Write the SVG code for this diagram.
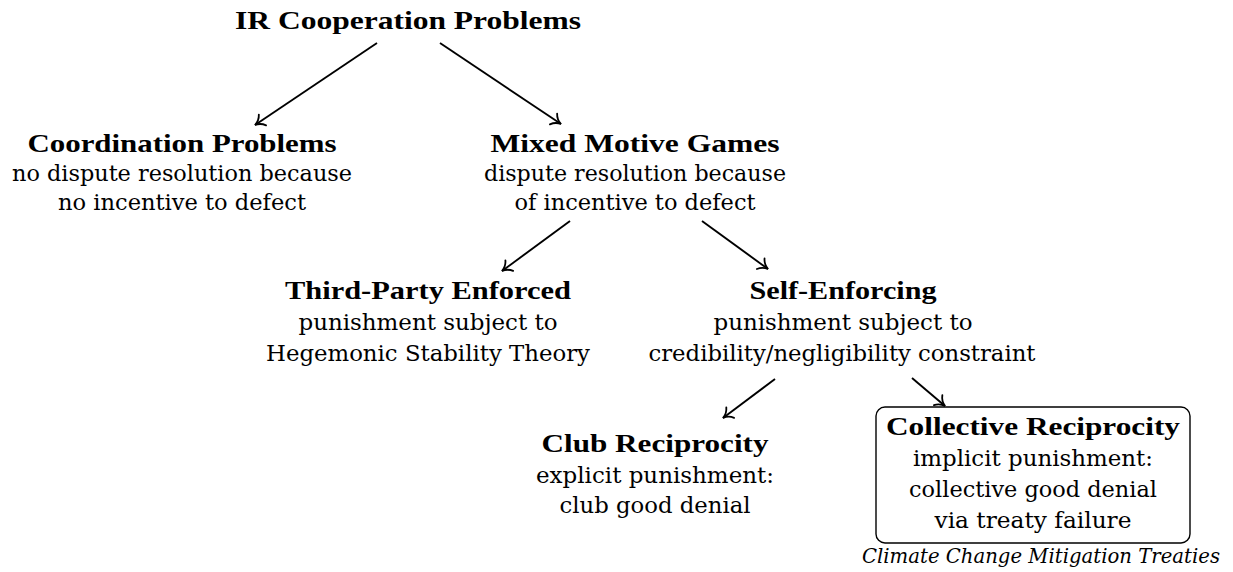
<svg xmlns="http://www.w3.org/2000/svg" width="1233" height="572" viewBox="0 0 1233 572">
<style>
text{fill:#000;text-anchor:middle}
.b{font-family:"Liberation Serif","DejaVu Serif",serif;font-weight:bold;font-size:26px}
.r{font-family:"DejaVu Serif","Liberation Serif",serif;font-size:22px}
.i{font-family:"DejaVu Serif","Liberation Serif",serif;font-style:italic;font-size:20.5px}
.edge{stroke:#000;stroke-width:1.9;fill:none;marker-end:url(#arr)}
.box{fill:#fff;stroke:#000;stroke-width:1.4}
</style>
<defs>
<marker id="arr" markerUnits="userSpaceOnUse" viewBox="-11 -8 13 16" markerWidth="13" markerHeight="16" refX="0" refY="0" orient="auto">
<path d="M-9,-6.5 C-6.5,-2.4 -2.7,-0.6 0,0 C-2.7,0.6 -6.5,2.4 -9,6.5" fill="none" stroke="#000" stroke-width="1.8" stroke-linecap="round"/>
</marker>
</defs>
<rect width="1233" height="572" fill="#fff"/>
<g id="connectors">
<line class="edge" x1="377" y1="43" x2="255" y2="125"/>
<line class="edge" x1="440" y1="43" x2="561" y2="124"/>
<line class="edge" x1="570" y1="221" x2="502" y2="271"/>
<line class="edge" x1="702" y1="221" x2="768" y2="269"/>
<line class="edge" x1="775" y1="379" x2="723" y2="418"/>
<line class="edge" x1="912" y1="378" x2="945" y2="406"/>
</g>
<g id="n-root">
<text class="b" x="408" y="29" textLength="346" lengthAdjust="spacingAndGlyphs">IR Cooperation Problems</text>
</g>
<g id="n-coord">
<text class="b" x="182" y="152" textLength="309" lengthAdjust="spacingAndGlyphs">Coordination Problems</text>
<text class="r" x="182" y="181" textLength="340" lengthAdjust="spacingAndGlyphs">no dispute resolution because</text>
<text class="r" x="182" y="210" textLength="248" lengthAdjust="spacingAndGlyphs">no incentive to defect</text>
</g>
<g id="n-mixed">
<text class="b" x="635" y="152" textLength="289" lengthAdjust="spacingAndGlyphs">Mixed Motive Games</text>
<text class="r" x="635" y="181" textLength="302" lengthAdjust="spacingAndGlyphs">dispute resolution because</text>
<text class="r" x="635" y="210" textLength="241" lengthAdjust="spacingAndGlyphs">of incentive to defect</text>
</g>
<g id="n-third">
<text class="b" x="428" y="299" textLength="286" lengthAdjust="spacingAndGlyphs">Third-Party Enforced</text>
<text class="r" x="428" y="330" textLength="259" lengthAdjust="spacingAndGlyphs">punishment subject to</text>
<text class="r" x="428" y="361" textLength="324" lengthAdjust="spacingAndGlyphs">Hegemonic Stability Theory</text>
</g>
<g id="n-self">
<text class="b" x="843" y="299" textLength="187" lengthAdjust="spacingAndGlyphs">Self-Enforcing</text>
<text class="r" x="843" y="330" textLength="259" lengthAdjust="spacingAndGlyphs">punishment subject to</text>
<text class="r" x="842" y="361" textLength="387" lengthAdjust="spacingAndGlyphs">credibility/negligibility constraint</text>
</g>
<g id="n-club">
<text class="b" x="655" y="452" textLength="227" lengthAdjust="spacingAndGlyphs">Club Reciprocity</text>
<text class="r" x="655" y="483" textLength="238" lengthAdjust="spacingAndGlyphs">explicit punishment:</text>
<text class="r" x="655" y="513" textLength="191" lengthAdjust="spacingAndGlyphs">club good denial</text>
</g>
<g id="n-collective">
<rect class="box" x="876" y="407" width="314" height="136" rx="9"/>
<text class="b" x="1033" y="435" textLength="294" lengthAdjust="spacingAndGlyphs">Collective Reciprocity</text>
<text class="r" x="1033" y="466" textLength="240" lengthAdjust="spacingAndGlyphs">implicit punishment:</text>
<text class="r" x="1033" y="497" textLength="248" lengthAdjust="spacingAndGlyphs">collective good denial</text>
<text class="r" x="1033" y="528" textLength="197" lengthAdjust="spacingAndGlyphs">via treaty failure</text>
</g>
<g id="n-climate">
<text class="i" x="1041" y="563" textLength="358" lengthAdjust="spacingAndGlyphs">Climate Change Mitigation Treaties</text>
</g>
</svg>
